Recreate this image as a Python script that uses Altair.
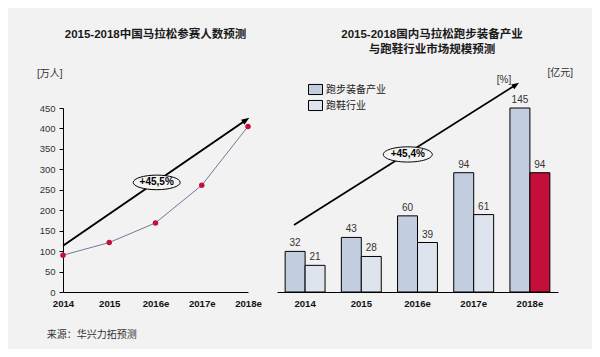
import altair as alt
import pandas as pd

# ---------------- data ----------------
years = ["2014", "2015", "2016e", "2017e", "2018e"]
participants = [90, 121, 169, 261, 405]          # 万人
equipment = [32, 43, 60, 94, 145]                # 亿元 跑步装备产业
shoes = [21, 28, 39, 61, 94]                     # 亿元 跑鞋行业
series_names = ["跑步装备产业", "跑鞋行业"]

title_left = "2015-2018中国马拉松参赛人数预测"
title_right = ["2015-2018国内马拉松跑步装备产业", "与跑鞋行业市场规模预测"]
growth_left = "+45,5%"
growth_right = "+45,4%"
unit_left = "[万人]"
unit_right = "[亿元]"
unit_pct = "[%]"
source_text = "来源：华兴力拓预测"

FONT = "Liberation Sans, Noto Sans CJK SC, sans-serif"
RED = "#c50f3b"
C_EQUIP = "#c3cde0"
C_SHOES = "#dee4ee"
LINE_C = "#6d7b96"

ELLIPSE = "M-1,0A1,0.31,0,1,0,1,0A1,0.31,0,1,0,-1,0Z"
TRI = "M1,0L-1,-0.75L-1,0.75Z"
RECT = "M-1,-0.72L1,-0.72L1,0.72L-1,0.72Z"

df_left = pd.DataFrame({"year": years, "value": participants})
df_bars = pd.DataFrame({
    "year": years * 2,
    "series": [series_names[0]] * 5 + [series_names[1]] * 5,
    "value": equipment + shoes,
})

# ---------------- left chart ----------------
lx = alt.Scale(type="point", domain=years, range=[0, 185], padding=0)
ly = alt.Scale(domain=[0, 450], nice=False, zero=True)

base_left = alt.Chart(df_left).encode(
    x=alt.X("year:O", scale=lx, sort=years,
            axis=alt.Axis(orient="bottom", title=None, ticks=False, labelAngle=0,
                          domainColor="black", domainWidth=1, labelPadding=6,
                          labelFontSize=9.6, labelFontWeight="bold", labelColor="#111",
                          labelFont=FONT, grid=False)),
    y=alt.Y("value:Q", scale=ly,
            axis=alt.Axis(values=list(range(0, 451, 50)), title=None, grid=False,
                          domainColor="black", domainWidth=1, tickColor="black",
                          tickSize=4, labelPadding=4, labelFontSize=9.5,
                          labelColor="#333", labelFont=FONT)),
)
left_line = base_left.mark_line(color=LINE_C, strokeWidth=1)
left_pts = base_left.mark_point(filled=True, color=RED, size=30, opacity=1)
L_main = alt.layer(left_line, left_pts)

# left annotations (linear index scale matching the point scale)
lax = alt.Scale(domain=[0, 4], range=[0, 185], zero=False, nice=False)
df_la = pd.DataFrame({"x": [0, 3.957], "y": [113, 420.6]})
df_lh = pd.DataFrame({"x": [3.957], "y": [420.6]})
df_le = pd.DataFrame({"x": [2.026], "y": [268], "t": [growth_left]})
df_lt = pd.DataFrame({"x": [2.0], "y": [628.5], "t": [title_left]})
df_lu = pd.DataFrame({"x": [-0.288], "y": [533], "t": [unit_left]})
df_ls = pd.DataFrame({"x": [-0.352], "y": [-105], "t": [source_text]})

def enc_l(ch):
    return ch.encode(x=alt.X("x:Q", scale=lax, axis=None),
                     y=alt.Y("y:Q", scale=ly, axis=None))

L_ann = alt.layer(
    enc_l(alt.Chart(df_la).mark_line(color="black", strokeWidth=2)),
    enc_l(alt.Chart(df_lh).mark_point(shape=TRI, filled=True, color="black",
                                      size=64, angle=325.5, opacity=1)),
    enc_l(alt.Chart(df_le).mark_point(shape=ELLIPSE, filled=True, fill="#f4f4f4",
                                      stroke="black", strokeWidth=1, size=2209,
                                      opacity=1)),
    enc_l(alt.Chart(df_le).mark_text(fontSize=10, fontWeight="bold", color="black",
                                     font=FONT)).encode(text="t:N"),
    enc_l(alt.Chart(df_lt).mark_text(fontSize=11.5, fontWeight="bold", color="#1a1a1a",
                                     font=FONT)).encode(text="t:N"),
    enc_l(alt.Chart(df_lu).mark_text(fontSize=10, color="#333", font=FONT)).encode(text="t:N"),
    enc_l(alt.Chart(df_ls).mark_text(fontSize=10, color="#333", align="left",
                                     font=FONT)).encode(text="t:N"),
)

# ---------------- right chart ----------------
rx = alt.Scale(domain=years, range=[214, 495], paddingInner=0.29, paddingOuter=0.145)
ry = alt.Scale(domain=[0, 145], nice=False, zero=True)
rxo = alt.Scale(domain=series_names, paddingInner=0, paddingOuter=0)

bars = alt.Chart(df_bars).mark_bar(stroke="black", strokeWidth=1).encode(
    x=alt.X("year:N", scale=rx, sort=years,
            axis=alt.Axis(orient="bottom", title=None, ticks=False, labelAngle=0,
                          domainColor="black", domainWidth=1, labelPadding=6,
                          labelFontSize=9.6, labelFontWeight="bold", labelColor="#111",
                          labelFont=FONT, grid=False)),
    xOffset=alt.XOffset("series:N", scale=rxo, sort=series_names),
    y=alt.Y("value:Q", scale=ry, axis=None),
    color=alt.condition(
        "datum.year === '2018e' && datum.series === '跑鞋行业'",
        alt.value(RED),
        alt.Color("series:N",
                  scale=alt.Scale(domain=series_names, range=[C_EQUIP, C_SHOES]),
                  legend=alt.Legend(orient="none", legendX=245, legendY=-26, title=None,
                                    symbolType=RECT, symbolSize=196,
                                    symbolStrokeColor="black", symbolStrokeWidth=1,
                                    symbolOpacity=1, labelFontSize=10, labelFont=FONT,
                                    labelColor="#222", labelOffset=3, rowPadding=1,
                                    padding=0)),
    ),
)
bar_labels = alt.Chart(df_bars).mark_text(baseline="alphabetic", dy=-5, fontSize=10,
                                          color="#333", font=FONT).encode(
    x=alt.X("year:N", scale=rx, sort=years),
    xOffset=alt.XOffset("series:N", scale=rxo, sort=series_names),
    y=alt.Y("value:Q", scale=ry, axis=None),
    text="value:Q",
)
R_bars = alt.layer(bars, bar_labels)

rax = alt.Scale(domain=[-0.5, 4.5], range=[214, 495], zero=False, nice=False)
df_ra = pd.DataFrame({"x": [-0.1975, 3.751], "y": [52.8, 163.3]})
df_rh = pd.DataFrame({"x": [3.751], "y": [163.3]})
df_re = pd.DataFrame({"x": [1.827], "y": [108.4], "t": [growth_right]})
df_rt = pd.DataFrame({"x": [2.258, 2.258], "y": [202.5, 190.7], "t": title_right})
df_ru = pd.DataFrame({"x": [3.539, 4.54], "y": [167, 172.6], "t": [unit_pct, unit_right]})

def enc_r(ch):
    return ch.encode(x=alt.X("x:Q", scale=rax, axis=None),
                     y=alt.Y("y:Q", scale=ry, axis=None))

R_ann = alt.layer(
    enc_r(alt.Chart(df_ra).mark_line(color="black", strokeWidth=1.8)),
    enc_r(alt.Chart(df_rh).mark_point(shape=TRI, filled=True, color="black",
                                      size=56, angle=327.7, opacity=1)),
    enc_r(alt.Chart(df_re).mark_point(shape=ELLIPSE, filled=True, fill="#f4f4f4",
                                      stroke="black", strokeWidth=1, size=2401,
                                      opacity=1)),
    enc_r(alt.Chart(df_re).mark_text(fontSize=10, fontWeight="bold", color="black",
                                     font=FONT)).encode(text="t:N"),
    enc_r(alt.Chart(df_rt).mark_text(fontSize=11.5, fontWeight="bold", color="#1a1a1a",
                                     font=FONT)).encode(text="t:N"),
    enc_r(alt.Chart(df_ru).mark_text(fontSize=10, color="#333", font=FONT)).encode(text="t:N"),
)

chart = alt.layer(L_main, L_ann, R_bars, R_ann).resolve_scale(
    x="independent", y="independent"
).properties(
    width=529, height=184,
    padding={"left": 55, "top": 100, "right": 0, "bottom": 57},
    autosize=alt.AutoSizeParams(type="none"),
    background="#f2f2f2",
).configure_view(stroke=None)

chart.save("out.html", embed_options={"renderer": "svg", "actions": False})
